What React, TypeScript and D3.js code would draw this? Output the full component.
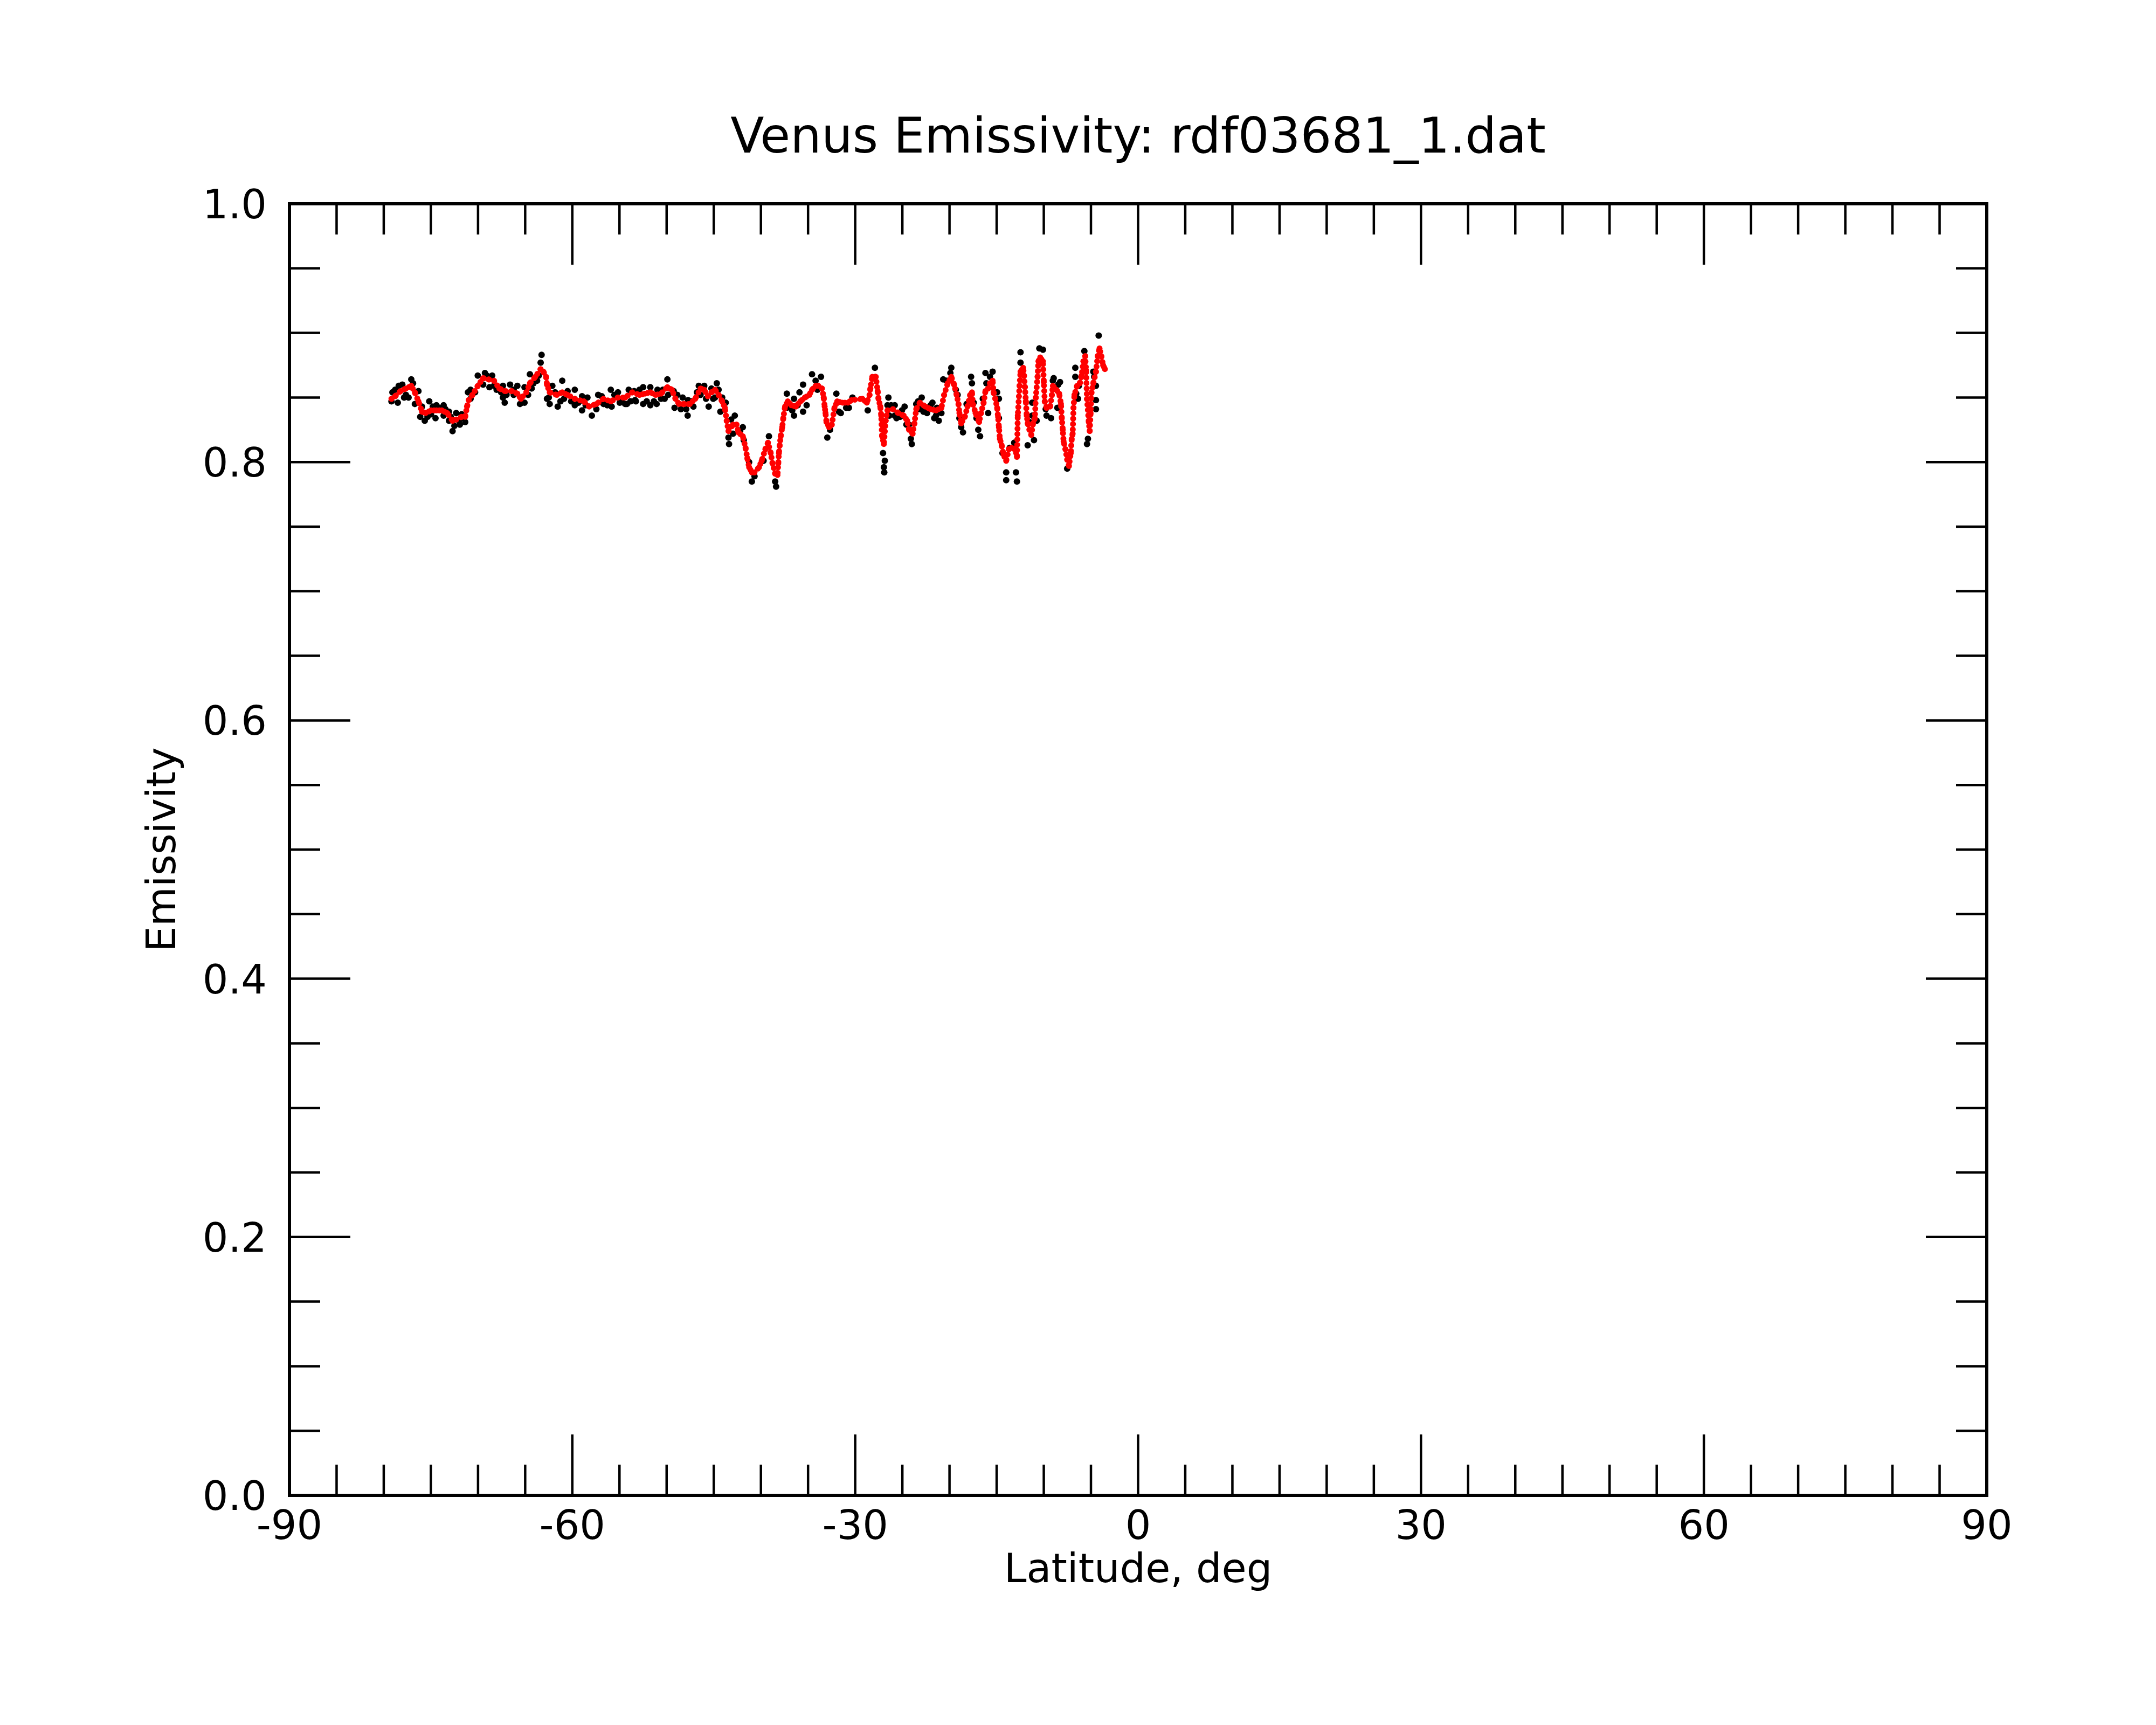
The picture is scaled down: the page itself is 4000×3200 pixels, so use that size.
import * as d3 from 'd3';

const chartWidth = 4000;
const chartHeight = 3200;
// plot frame edges, measured on the reference
const frame = { left: 537, right: 3686, top: 378, bottom: 2774 };

// smoothed emissivity (red), [latitude, emissivity]
const smoothedSeries: [number, number][] = [
    [-79.18, 0.849], [-78.79, 0.851], [-78.22, 0.855], [-77.65, 0.857], [-77.08, 0.859],
    [-76.70, 0.854], [-76.32, 0.847], [-75.94, 0.839], [-75.55, 0.838], [-74.98, 0.840],
    [-74.41, 0.840], [-73.84, 0.840], [-73.27, 0.838], [-72.70, 0.832], [-72.31, 0.833],
    [-71.74, 0.835], [-71.36, 0.835], [-71.17, 0.843], [-70.98, 0.848], [-70.60, 0.852],
    [-70.03, 0.859], [-69.46, 0.865], [-68.88, 0.864], [-68.31, 0.863], [-67.74, 0.857],
    [-67.17, 0.855], [-66.41, 0.855], [-65.83, 0.853], [-65.45, 0.849], [-64.88, 0.854],
    [-64.50, 0.861], [-63.93, 0.866], [-63.36, 0.872], [-63.07, 0.870], [-62.78, 0.866],
    [-62.69, 0.860], [-62.40, 0.854], [-61.64, 0.852], [-61.07, 0.854], [-60.50, 0.852],
    [-59.74, 0.849], [-58.78, 0.847], [-58.21, 0.843], [-57.45, 0.845], [-56.69, 0.849],
    [-55.92, 0.847], [-55.16, 0.850], [-54.40, 0.850], [-53.64, 0.854], [-52.88, 0.852],
    [-52.30, 0.853], [-51.73, 0.854], [-51.16, 0.852], [-50.59, 0.853], [-49.92, 0.858],
    [-49.44, 0.856], [-49.06, 0.849], [-48.68, 0.845], [-48.11, 0.845], [-47.54, 0.845],
    [-46.97, 0.849], [-46.40, 0.857], [-46.01, 0.856], [-45.63, 0.851], [-45.25, 0.854],
    [-44.87, 0.856], [-44.49, 0.852], [-44.11, 0.847], [-43.82, 0.842], [-43.63, 0.832],
    [-43.44, 0.824], [-42.96, 0.829], [-42.58, 0.829], [-42.39, 0.823], [-41.92, 0.820],
    [-41.63, 0.811], [-41.44, 0.803], [-41.25, 0.796], [-40.96, 0.792], [-40.68, 0.792],
    [-40.20, 0.796], [-39.92, 0.801], [-39.53, 0.810], [-39.25, 0.815], [-38.96, 0.807],
    [-38.77, 0.799], [-38.49, 0.791], [-38.24, 0.790], [-38.16, 0.799], [-38.09, 0.807],
    [-38.01, 0.813], [-37.90, 0.820], [-37.74, 0.827], [-37.63, 0.834], [-37.44, 0.843],
    [-37.15, 0.847], [-36.77, 0.844], [-36.29, 0.843], [-35.82, 0.847], [-35.34, 0.850],
    [-34.87, 0.852], [-34.58, 0.856], [-34.20, 0.859], [-33.91, 0.859], [-33.53, 0.857],
    [-33.34, 0.850], [-33.24, 0.843], [-33.15, 0.838], [-33.05, 0.831], [-32.77, 0.827],
    [-32.48, 0.829], [-32.20, 0.842], [-31.91, 0.847], [-31.34, 0.846], [-30.77, 0.846],
    [-30.39, 0.848], [-29.24, 0.849], [-28.77, 0.846], [-28.48, 0.852], [-28.39, 0.857],
    [-28.19, 0.866], [-27.91, 0.866], [-27.81, 0.866], [-27.62, 0.855], [-27.53, 0.849],
    [-27.34, 0.843], [-27.24, 0.836], [-27.15, 0.820], [-26.96, 0.814], [-26.77, 0.832],
    [-26.58, 0.840], [-26.00, 0.841], [-25.43, 0.838], [-24.86, 0.836], [-24.48, 0.832],
    [-24.29, 0.825], [-23.91, 0.822], [-23.72, 0.830], [-23.53, 0.841], [-23.14, 0.846],
    [-22.57, 0.843], [-22.00, 0.841], [-21.43, 0.840], [-20.86, 0.842], [-20.57, 0.852],
    [-20.19, 0.861], [-19.81, 0.866], [-19.52, 0.860], [-19.24, 0.852], [-19.05, 0.845],
    [-18.95, 0.838], [-18.76, 0.830], [-18.38, 0.835], [-18.09, 0.843], [-17.81, 0.852],
    [-17.62, 0.854], [-17.52, 0.845], [-17.24, 0.838], [-16.86, 0.831], [-16.66, 0.838],
    [-16.38, 0.846], [-16.19, 0.855], [-15.90, 0.857], [-15.71, 0.861], [-15.43, 0.863],
    [-15.33, 0.854], [-15.14, 0.849], [-14.95, 0.842], [-14.85, 0.835], [-14.76, 0.827],
    [-14.66, 0.818], [-14.47, 0.813], [-14.28, 0.806], [-13.99, 0.801], [-13.71, 0.810],
    [-13.42, 0.811], [-13.04, 0.810], [-12.85, 0.804], [-12.76, 0.836], [-12.57, 0.859],
    [-12.47, 0.870], [-12.19, 0.873], [-12.10, 0.867], [-12.00, 0.858], [-11.90, 0.847],
    [-11.81, 0.836], [-11.71, 0.830], [-11.52, 0.825], [-11.33, 0.821], [-11.14, 0.830],
    [-10.95, 0.834], [-10.85, 0.850], [-10.66, 0.866], [-10.57, 0.878], [-10.38, 0.881],
    [-10.09, 0.878], [-10.00, 0.862], [-9.90, 0.847], [-9.71, 0.842], [-9.33, 0.843],
    [-9.14, 0.852], [-9.04, 0.859], [-8.66, 0.856], [-8.37, 0.853], [-8.18, 0.845],
    [-8.09, 0.834], [-7.99, 0.825], [-7.90, 0.816], [-7.71, 0.810], [-7.52, 0.802],
    [-7.33, 0.797], [-7.14, 0.807], [-7.04, 0.818], [-6.94, 0.822], [-6.85, 0.842],
    [-6.75, 0.852], [-6.47, 0.859], [-6.18, 0.861], [-5.99, 0.867], [-5.80, 0.878],
    [-5.61, 0.882], [-5.52, 0.871], [-5.42, 0.849], [-5.23, 0.831], [-5.13, 0.824],
    [-5.04, 0.838], [-4.94, 0.854], [-4.75, 0.861], [-4.47, 0.870], [-4.28, 0.882],
    [-4.09, 0.888], [-3.90, 0.882], [-3.71, 0.875], [-3.52, 0.872],
];

// raw emissivity samples (black), [latitude, emissivity]
const rawSeries: [number, number][] = [
    [-79.18, 0.847], [-79.08, 0.854], [-78.79, 0.856], [-78.51, 0.846], [-78.41, 0.859],
    [-78.03, 0.860], [-77.84, 0.850], [-77.65, 0.852], [-77.37, 0.850], [-77.08, 0.864],
    [-76.89, 0.861], [-76.70, 0.845], [-76.32, 0.855], [-76.13, 0.835], [-75.94, 0.843],
    [-75.65, 0.832], [-75.36, 0.835], [-75.17, 0.847], [-74.98, 0.837], [-74.79, 0.843],
    [-74.51, 0.834], [-74.41, 0.844], [-74.13, 0.842], [-73.65, 0.844], [-73.65, 0.836],
    [-73.46, 0.841], [-73.08, 0.839], [-73.08, 0.832], [-72.89, 0.835], [-72.70, 0.824],
    [-72.51, 0.828], [-72.31, 0.838], [-72.03, 0.832], [-71.93, 0.829], [-71.74, 0.837],
    [-71.55, 0.834], [-71.36, 0.831], [-71.07, 0.854], [-70.79, 0.849], [-70.79, 0.856],
    [-70.31, 0.854], [-70.03, 0.867], [-69.74, 0.861], [-69.46, 0.860], [-69.27, 0.869],
    [-69.07, 0.867], [-68.79, 0.858], [-68.50, 0.867], [-68.31, 0.859], [-68.03, 0.856],
    [-67.55, 0.854], [-67.36, 0.859], [-67.36, 0.850], [-67.17, 0.846], [-66.98, 0.852],
    [-66.60, 0.860], [-66.22, 0.852], [-66.22, 0.856], [-65.83, 0.859], [-65.55, 0.845],
    [-65.36, 0.846], [-65.07, 0.858], [-65.07, 0.846], [-64.69, 0.852], [-64.50, 0.868],
    [-64.31, 0.857], [-64.12, 0.861], [-63.74, 0.863], [-63.55, 0.867], [-63.36, 0.877],
    [-63.26, 0.883], [-62.69, 0.849], [-62.50, 0.850], [-62.40, 0.845], [-62.12, 0.859],
    [-61.83, 0.854], [-61.55, 0.843], [-61.26, 0.847], [-61.07, 0.863], [-60.88, 0.849],
    [-60.50, 0.855], [-60.12, 0.847], [-59.74, 0.856], [-59.74, 0.844], [-59.35, 0.846],
    [-58.97, 0.851], [-58.97, 0.840], [-58.59, 0.844], [-58.40, 0.850], [-57.93, 0.836],
    [-57.45, 0.841], [-57.26, 0.852], [-56.88, 0.851], [-56.69, 0.845], [-56.30, 0.844],
    [-55.92, 0.856], [-55.83, 0.843], [-55.54, 0.852], [-55.16, 0.854], [-54.97, 0.846],
    [-54.78, 0.847], [-54.40, 0.845], [-54.21, 0.845], [-54.02, 0.856], [-53.83, 0.847],
    [-53.45, 0.855], [-53.35, 0.848], [-53.26, 0.847], [-52.88, 0.856], [-52.49, 0.858],
    [-52.49, 0.845], [-52.11, 0.847], [-51.73, 0.858], [-51.73, 0.844], [-51.35, 0.847],
    [-51.06, 0.845], [-50.97, 0.856], [-50.59, 0.849], [-50.40, 0.856], [-50.21, 0.849],
    [-49.92, 0.864], [-49.83, 0.852], [-49.25, 0.855], [-49.16, 0.842], [-48.87, 0.852],
    [-48.49, 0.841], [-48.30, 0.850], [-47.92, 0.841], [-47.77, 0.836], [-47.73, 0.848],
    [-47.35, 0.847], [-47.16, 0.843], [-46.78, 0.854], [-46.59, 0.859], [-46.40, 0.852],
    [-46.01, 0.859], [-45.82, 0.849], [-45.54, 0.843], [-45.25, 0.857], [-45.06, 0.849],
    [-44.87, 0.850], [-44.68, 0.861], [-44.49, 0.856], [-44.30, 0.839], [-44.11, 0.850],
    [-43.73, 0.846], [-43.44, 0.819], [-43.38, 0.814], [-43.16, 0.833], [-42.96, 0.822],
    [-42.77, 0.836], [-42.20, 0.824], [-41.92, 0.827], [-41.82, 0.817], [-41.25, 0.800],
    [-40.96, 0.785], [-40.68, 0.789], [-39.72, 0.801], [-39.15, 0.820], [-38.49, 0.785],
    [-38.39, 0.781], [-37.25, 0.853], [-37.25, 0.842], [-36.68, 0.840], [-36.49, 0.849],
    [-36.49, 0.836], [-36.10, 0.844], [-35.91, 0.854], [-35.53, 0.860], [-35.53, 0.839],
    [-35.15, 0.844], [-34.58, 0.868], [-34.20, 0.863], [-34.01, 0.856], [-33.63, 0.866],
    [-32.96, 0.819], [-32.67, 0.825], [-32.00, 0.853], [-31.72, 0.839], [-31.53, 0.838],
    [-30.96, 0.842], [-30.67, 0.842], [-30.29, 0.850], [-28.67, 0.840], [-27.91, 0.873],
    [-27.05, 0.807], [-26.96, 0.796], [-26.92, 0.792], [-26.86, 0.801], [-26.58, 0.844],
    [-26.48, 0.850], [-26.38, 0.836], [-26.19, 0.844], [-25.81, 0.836], [-25.81, 0.844],
    [-25.62, 0.834], [-25.24, 0.835], [-25.05, 0.840], [-24.76, 0.843], [-24.57, 0.829],
    [-24.29, 0.829], [-24.10, 0.818], [-24.00, 0.814], [-23.53, 0.845], [-23.33, 0.847],
    [-23.14, 0.841], [-22.95, 0.850], [-22.76, 0.839], [-22.38, 0.842], [-22.38, 0.838],
    [-22.00, 0.844], [-21.81, 0.846], [-21.62, 0.834], [-21.43, 0.836], [-21.33, 0.842],
    [-21.33, 0.838], [-21.14, 0.832], [-20.86, 0.838], [-20.67, 0.864], [-20.29, 0.863],
    [-19.91, 0.869], [-19.81, 0.873], [-19.33, 0.856], [-19.14, 0.852], [-18.95, 0.834],
    [-18.76, 0.827], [-18.57, 0.823], [-18.19, 0.845], [-17.71, 0.866], [-17.62, 0.861],
    [-17.43, 0.846], [-17.14, 0.834], [-16.95, 0.825], [-16.76, 0.820], [-16.47, 0.849],
    [-16.19, 0.869], [-16.09, 0.861], [-15.90, 0.838], [-15.71, 0.866], [-15.43, 0.870],
    [-14.95, 0.854], [-14.76, 0.849], [-14.76, 0.834], [-14.38, 0.807], [-13.99, 0.792],
    [-13.99, 0.786], [-13.62, 0.811], [-13.14, 0.815], [-13.04, 0.811], [-12.95, 0.792],
    [-12.85, 0.785], [-12.47, 0.885], [-12.47, 0.877], [-11.71, 0.813], [-11.52, 0.831],
    [-11.23, 0.846], [-11.23, 0.836], [-11.04, 0.817], [-10.76, 0.832], [-10.47, 0.888],
    [-10.09, 0.887], [-9.80, 0.841], [-9.71, 0.836], [-9.23, 0.834], [-9.04, 0.863],
    [-8.95, 0.865], [-8.56, 0.842], [-8.47, 0.860], [-8.28, 0.862], [-7.52, 0.795],
    [-6.66, 0.873], [-6.66, 0.866], [-6.56, 0.853], [-6.37, 0.849], [-6.28, 0.859],
    [-5.70, 0.886], [-5.42, 0.814], [-5.32, 0.818], [-4.75, 0.870], [-4.66, 0.866],
    [-4.47, 0.859], [-4.47, 0.848], [-4.47, 0.841], [-4.18, 0.898],
];

const xMajorTicks = [-90, -60, -30, 0, 30, 60, 90];
const xTickLabels = ['-90', '-60', '-30', '0', '30', '60', '90'];
const yMajorTicks = [0, 0.2, 0.4, 0.6, 0.8, 1.0];
const yTickLabels = ['0.0', '0.2', '0.4', '0.6', '0.8', '1.0'];

const chartTitle = 'Venus Emissivity: rdf03681_1.dat';
const xTitle = 'Latitude, deg';
const yTitle = 'Emissivity';

export default function App() {
    const xScale = d3.scaleLinear().domain([-90, 90]).range([frame.left, frame.right]);
    const yScale = d3.scaleLinear().domain([0, 1]).range([frame.bottom, frame.top]);

    // minor ticks every 5 deg and every 0.05
    const xMinor = d3.range(-85, 90, 5).filter((v) => v % 30 !== 0);
    const yMinor = d3.range(1, 20).map((k) => k * 0.05).filter((_, i) => (i + 1) % 4 !== 0);

    const majorLen = 113;
    const minorLen = 57;

    const smoothLine = d3
        .line<[number, number]>()
        .x((d) => xScale(d[0]))
        .y((d) => yScale(d[1]));

    const font = 'DejaVu Sans';

    return (
        <svg
            width={chartWidth}
            height={chartHeight}
            style={{ position: 'absolute', left: 0, top: 0, background: 'white' }}
            fontFamily={font}
        >
            <rect x={0} y={0} width={chartWidth} height={chartHeight} fill="white" />

            {/* raw samples */}
            <g fill="black">
                {rawSeries.map((d, i) => (
                    <circle key={i} cx={xScale(d[0])} cy={yScale(d[1])} r={6} />
                ))}
            </g>

            {/* smoothed samples */}
            <path
                d={smoothLine(smoothedSeries) ?? ''}
                fill="none"
                stroke="#ff0000"
                strokeWidth={11}
                strokeLinecap="round"
                strokeLinejoin="round"
                strokeDasharray="0 10"
            />
            <g fill="#ff0000">
                {smoothedSeries.map((d, i) => (
                    <circle key={i} cx={xScale(d[0])} cy={yScale(d[1])} r={5.5} />
                ))}
            </g>

            {/* ticks on all four sides */}
            <g stroke="black" strokeWidth={4.5}>
                {xMajorTicks.map((v) => (
                    <g key={'xm' + v}>
                        <line x1={xScale(v)} x2={xScale(v)} y1={frame.bottom} y2={frame.bottom - majorLen} />
                        <line x1={xScale(v)} x2={xScale(v)} y1={frame.top} y2={frame.top + majorLen} />
                    </g>
                ))}
                {xMinor.map((v) => (
                    <g key={'xn' + v}>
                        <line x1={xScale(v)} x2={xScale(v)} y1={frame.bottom} y2={frame.bottom - minorLen} />
                        <line x1={xScale(v)} x2={xScale(v)} y1={frame.top} y2={frame.top + minorLen} />
                    </g>
                ))}
                {yMajorTicks.map((v) => (
                    <g key={'ym' + v}>
                        <line x1={frame.left} x2={frame.left + majorLen} y1={yScale(v)} y2={yScale(v)} />
                        <line x1={frame.right} x2={frame.right - majorLen} y1={yScale(v)} y2={yScale(v)} />
                    </g>
                ))}
                {yMinor.map((v) => (
                    <g key={'yn' + v}>
                        <line x1={frame.left} x2={frame.left + minorLen} y1={yScale(v)} y2={yScale(v)} />
                        <line x1={frame.right} x2={frame.right - minorLen} y1={yScale(v)} y2={yScale(v)} />
                    </g>
                ))}
            </g>

            <rect
                x={frame.left}
                y={frame.top}
                width={frame.right - frame.left}
                height={frame.bottom - frame.top}
                fill="none"
                stroke="black"
                strokeWidth={6}
            />

            {/* tick labels */}
            <g fontSize={75} fill="black">
                {xMajorTicks.map((v, i) => (
                    <text key={'xl' + v} x={xScale(v)} y={frame.bottom + 81} textAnchor="middle">
                        {xTickLabels[i]}
                    </text>
                ))}
                {yMajorTicks.map((v, i) => (
                    <text key={'yl' + v} x={frame.left - 42} y={yScale(v) + 27} textAnchor="end">
                        {yTickLabels[i]}
                    </text>
                ))}
            </g>

            <text x={(frame.left + frame.right) / 2} y={2935} fontSize={75} textAnchor="middle">
                {xTitle}
            </text>
            <text
                transform={`translate(325, ${(frame.top + frame.bottom) / 2}) rotate(-90)`}
                fontSize={75}
                textAnchor="middle"
            >
                {yTitle}
            </text>
            <text x={(frame.left + frame.right) / 2} y={283} fontSize={91} textAnchor="middle">
                {chartTitle}
            </text>
        </svg>
    );
}
